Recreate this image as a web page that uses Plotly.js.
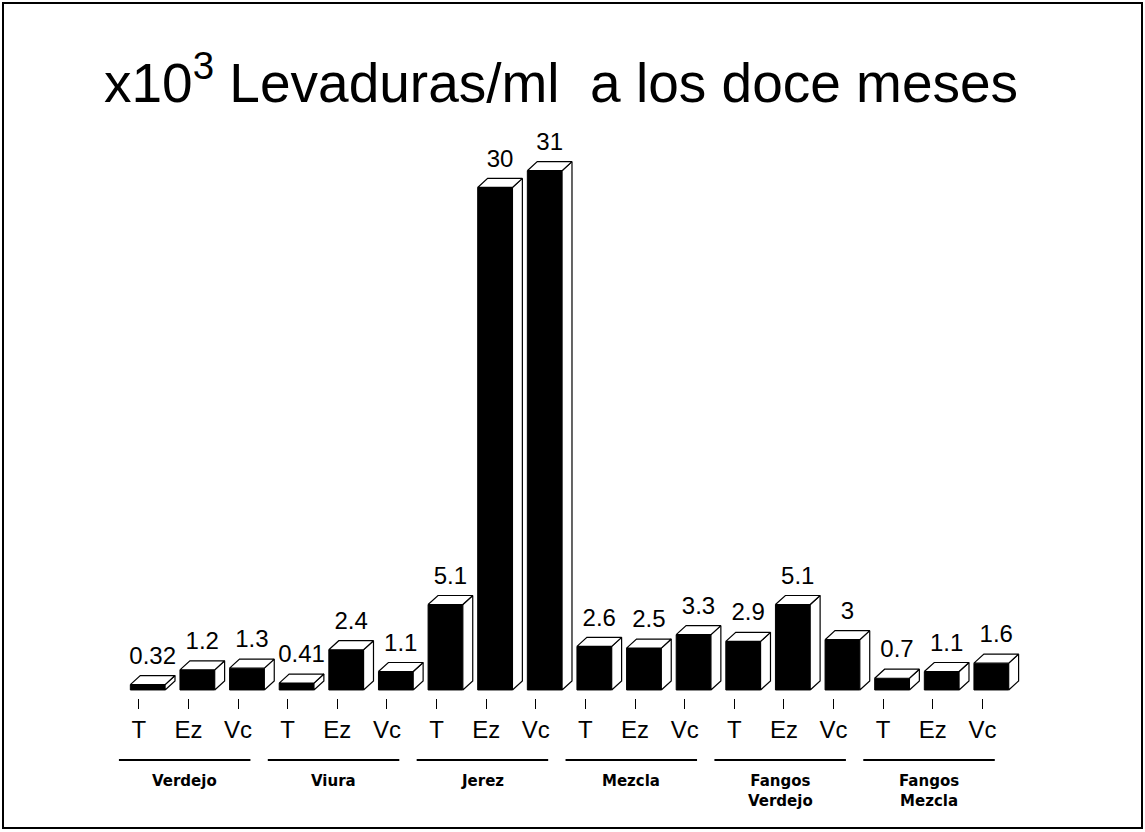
<!DOCTYPE html>
<html>
<head>
<meta charset="utf-8">
<script src="https://cdn.plot.ly/plotly-3.0.1.min.js"></script>
<style>
  body { margin: 0; background: #fff; }
  #chart { width: 1145px; height: 832px; }
</style>
</head>
<body>
<div id="chart"></div>
<script>
// x10^3 levaduras/ml a los doce meses
var subLabels = ['T', 'Ez', 'Vc', 'T', 'Ez', 'Vc', 'T', 'Ez', 'Vc',
                 'T', 'Ez', 'Vc', 'T', 'Ez', 'Vc', 'T', 'Ez', 'Vc'];
var groups = ['Verdejo', 'Viura', 'Jerez', 'Mezcla', 'Fangos<br>Verdejo', 'Fangos<br>Mezcla'];
var values = [0.32, 1.2, 1.3, 0.41, 2.4, 1.1, 5.1, 30, 31,
              2.6, 2.5, 3.3, 2.9, 5.1, 3, 0.7, 1.1, 1.6];

// page geometry (pixels)
var W = 1145, H = 832;
var ml = 109, mr = 113, mt = 130, mb = 134;
var pw = W - ml - mr, ph = H - mt - mb;
var xr = [-0.6, 18.0];
var yr = [-0.48, 33.43];

// fake 3d look
var bw = 0.7;   // front face width
var off = 0.18; // front face shift from the tick
var dx = 0.2, dy = 0.54; // depth

var idx = values.map(function (v, i) { return i; });
var centers = idx.map(function (i) { return i + off; });

// top and side faces as polygons
var topX = [], topY = [], sideX = [], sideY = [];
for (var i = 0; i < values.length; i++) {
  var v = values[i];
  var x0 = centers[i] - bw / 2, x1 = centers[i] + bw / 2;
  topX.push(x0, x1, x1 + dx, x0 + dx, x0, null);
  topY.push(v, v, v + dy, v + dy, v, null);
  sideX.push(x1, x1, x1 + dx, x1 + dx, x1, null);
  sideY.push(0, v, v + dy, dy, 0, null);
}

var front = {
  x: centers,
  y: values,
  type: 'bar',
  width: bw,
  marker: { color: '#000', line: { color: '#000', width: 1 } },
  hoverinfo: 'skip'
};

var tops = {
  x: topX, y: topY,
  type: 'scatter', mode: 'lines',
  fill: 'toself', fillcolor: '#fff',
  line: { color: '#000', width: 1.2 },
  hoverinfo: 'skip'
};

var sides = {
  x: sideX, y: sideY,
  type: 'scatter', mode: 'lines',
  fill: 'toself', fillcolor: '#fff',
  line: { color: '#000', width: 1.2 },
  hoverinfo: 'skip'
};

var labels = {
  x: idx.map(function (i) { return i + off + dx / 2; }),
  y: values.map(function (v) { return v + dy + 0.35; }),
  text: values.map(String),
  type: 'scatter', mode: 'text',
  textposition: 'top center',
  textfont: { family: 'Liberation Sans, Arial, sans-serif', size: 24, color: '#000' },
  cliponaxis: false,
  hoverinfo: 'skip'
};

function paperX(x) { return (x - xr[0]) / (xr[1] - xr[0]); }
function paperXpx(px) { return (px - ml) / pw; }
function paperYpx(py) { return (H - mb - py) / ph; }

var shapes = [];
var annotations = [];
for (var g = 0; g < groups.length; g++) {
  var a = paperX(g * 3 - 0.4), b = paperX(g * 3 + 2 + 0.25);
  shapes.push({
    type: 'line', xref: 'paper', yref: 'paper',
    x0: a, x1: b, y0: paperYpx(760), y1: paperYpx(760),
    line: { color: '#000', width: 2 }
  });
  annotations.push({
    text: groups[g], xref: 'paper', yref: 'paper',
    x: (a + b) / 2, y: paperYpx(770),
    xanchor: 'center', yanchor: 'top', showarrow: false,
    font: { family: 'DejaVu Sans, sans-serif', size: 15, weight: 'bold', color: '#000' }
  });
}

// frame round the whole picture
shapes.push({
  type: 'rect', xref: 'paper', yref: 'paper',
  x0: paperXpx(3), x1: paperXpx(1142), y0: paperYpx(828), y1: paperYpx(3),
  line: { color: '#000', width: 2 }
});

var layout = {
  width: W, height: H,
  margin: { l: ml, r: mr, t: mt, b: mb },
  paper_bgcolor: '#fff',
  plot_bgcolor: '#fff',
  showlegend: false,
  barmode: 'overlay',
  title: {
    text: 'x10<sup>3</sup> Levaduras/ml\u00a0 a los doce meses',
    font: { family: 'Liberation Sans, Arial, sans-serif', size: 55, color: '#000' },
    xref: 'container', x: 0.49, xanchor: 'center',
    yref: 'container', y: 1 - 83 / H, yanchor: 'middle'
  },
  xaxis: {
    range: xr,
    tickvals: idx,
    ticktext: subLabels,
    ticks: 'outside', ticklen: 10, tickwidth: 1, tickcolor: '#000',
    ticklabelstandoff: 0,
    tickfont: { family: 'Liberation Sans, Arial, sans-serif', size: 24, color: '#000' },
    showgrid: false, zeroline: false, showline: false,
    fixedrange: true
  },
  yaxis: {
    range: yr,
    visible: false,
    fixedrange: true
  },
  shapes: shapes,
  annotations: annotations
};

Plotly.newPlot('chart', [front, sides, tops, labels], layout, { displayModeBar: false, staticPlot: true });
</script>
</body>
</html>
